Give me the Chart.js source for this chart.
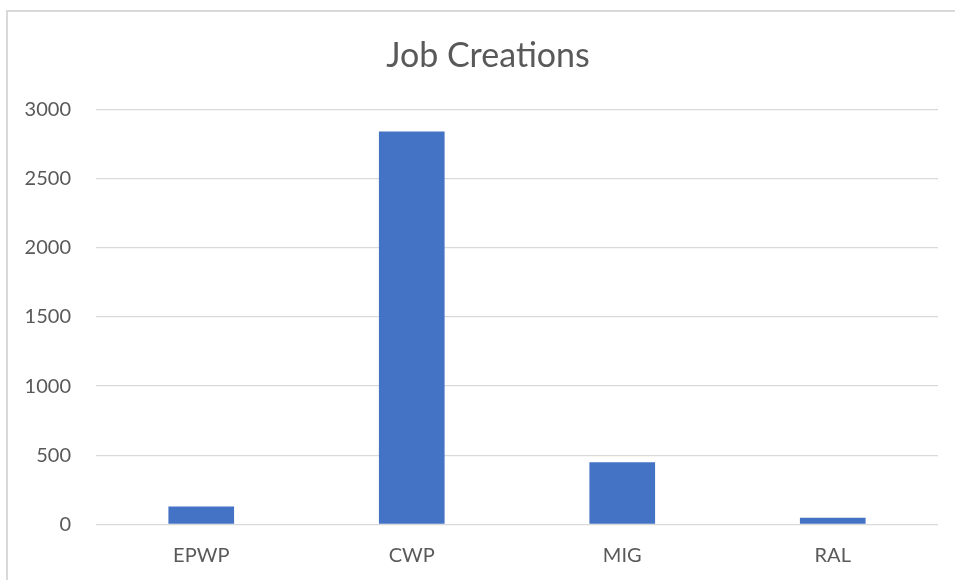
<!DOCTYPE html>
<html>
<head>
<meta charset="utf-8">
<script src="https://cdn.jsdelivr.net/npm/chart.js@4"></script>
<style>
    html, body { margin: 0; padding: 0; background: #fff; }
    #wrap { position: relative; width: 955px; height: 580px; overflow: hidden; }
    #frame {
        position: absolute; left: 6px; top: 10px; width: 1000px; height: 600px;
        border-left: 2px solid #d9d9d9; border-top: 2px solid #d9d9d9;
        pointer-events: none;
    }
</style>
</head>
<body>
<div id="wrap">
    <canvas id="jobChart" width="955" height="580"></canvas>
    <div id="frame"></div>
</div>
<script>
// Job creation counts per programme
const categories = ['EPWP', 'CWP', 'MIG', 'RAL'];
const jobs = [130, 2840, 450, 48];
const yTicks = [0, 500, 1000, 1500, 2000, 2500, 3000];
const chartTitle = 'Job Creations';

const FONT = 'Lato, "Open Sans", sans-serif';
const TEXT = '#595959';

// Title sits centred on the whole frame, not on the canvas minus padding
const titlePlugin = {
    id: 'frameTitle',
    afterDraw(chart) {
        const ctx = chart.ctx;
        ctx.save();
        ctx.fillStyle = TEXT;
        ctx.font = '34px ' + FONT;
        ctx.textAlign = 'center';
        ctx.textBaseline = 'alphabetic';
        ctx.fillText(chartTitle, 488, 67);
        ctx.restore();
    },
};

new Chart(document.getElementById('jobChart'), {
    type: 'bar',
    data: {
        labels: categories,
        datasets: [{
            label: chartTitle,
            data: jobs,
            backgroundColor: '#4472c4',
            borderWidth: 0,
            categoryPercentage: 1,
            barPercentage: 0.312,
        }],
    },
    options: {
        responsive: false,
        animation: false,
        layout: {
            padding: { left: 0, right: 17, top: 109.3, bottom: 0 },
        },
        scales: {
            x: {
                afterFit: (scale) => { scale.height = 55.5; },
                grid: { display: false, drawTicks: false },
                border: { display: false },
                ticks: {
                    color: TEXT,
                    font: { family: FONT, size: 20 },
                    padding: 19.5,
                },
            },
            y: {
                min: 0,
                max: 3000,
                afterBuildTicks: (scale) => {
                    scale.ticks = yTicks.map(v => ({ value: v }));
                },
                afterFit: (scale) => { scale.width = 96; },
                grid: {
                    color: '#d9d9d9',
                    lineWidth: 1.3,
                    drawTicks: false,
                },
                border: { display: false },
                ticks: {
                    color: TEXT,
                    font: { family: FONT, size: 20 },
                    padding: 25,
                    callback: (value) => String(value),
                },
            },
        },
        plugins: {
            legend: { display: false },
            tooltip: { enabled: false },
            title: { display: false },
        },
    },
    plugins: [titlePlugin],
});
</script>
</body>
</html>
